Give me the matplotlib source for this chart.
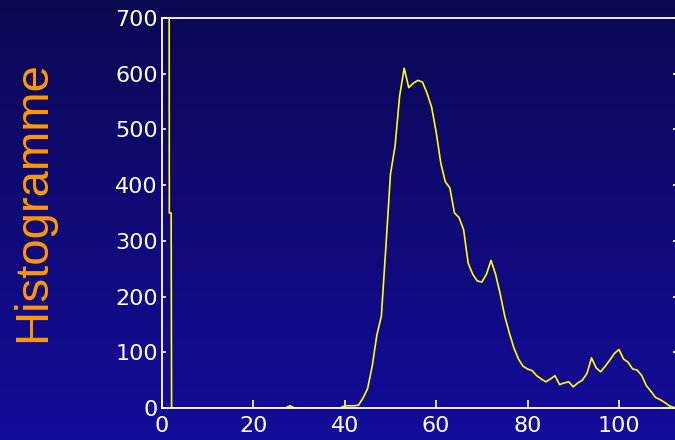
import numpy as np
import matplotlib
matplotlib.use("Agg")
import matplotlib.pyplot as plt

# ------------------------------------------------------------------
# Data (grey levels -> pixel counts)
# ------------------------------------------------------------------
spike_levels = [1.4, 1.6, 2.0, 2.1]
spike_counts = [3000, 350, 350, 0]

levels = list(range(3, 114))
counts = [
    0, 0, 0, 0, 0, 0, 0, 0, 0, 0,          # 3-12
    0, 0, 0, 0, 0, 0, 0, 0, 0, 0,          # 13-22
    0, 0, 0, 0, 0, 4, 0, 0, 0, 0,          # 23-32
    0, 0, 0, 0, 0, 0, 0, 4, 4, 4,          # 33-42
    5, 18, 35, 75, 130, 165, 290, 420, 470, 560,   # 43-52
    610, 575, 583, 588, 585, 565, 540, 495, 440, 406,  # 53-62
    395, 350, 342, 320, 260, 240, 228, 226, 240, 265,  # 63-72
    240, 205, 165, 135, 108, 88, 75, 70, 67, 58,       # 73-82
    52, 47, 52, 58, 42, 45, 47, 38, 45, 50,            # 83-92
    62, 90, 72, 65, 75, 86, 98, 105, 88, 82,           # 93-102
    70, 68, 58, 40, 30, 19, 15, 10, 4, 1,              # 103-112
    0,                                                 # 113
]

x_ticks = [0, 20, 40, 60, 80, 100]
y_ticks = [0, 100, 200, 300, 400, 500, 600, 700]

# ------------------------------------------------------------------
# Figure with blue gradient background
# ------------------------------------------------------------------
fig = plt.figure(figsize=(6.75, 4.4), dpi=100)

bg = fig.add_axes([0, 0, 1, 1], zorder=-10)
top_col = np.array([11, 8, 82]) / 255
bot_col = np.array([20, 12, 155]) / 255
t = np.linspace(0, 1, 256)[:, None]
grad = top_col * (1 - t) + bot_col * t
bg.imshow(grad[:, None, :], aspect="auto", extent=[0, 1, 0, 1])
bg.axis("off")

ax = fig.add_axes([162 / 675, 32 / 440, (677 - 162) / 675, 390 / 440])
ax.set_facecolor("none")

x_all = spike_levels + levels
y_all = spike_counts + counts
ax.plot(x_all, y_all, color="#ffff00", lw=1.2, clip_on=True)

ax.set_xlim(0, 112.7)
ax.set_ylim(0, 700)
ax.set_xticks(x_ticks)
ax.set_yticks(y_ticks)

for side, sp in ax.spines.items():
    sp.set_color("white")
    sp.set_linewidth(1.3)

ax.tick_params(axis="x", direction="in", length=5.5, width=1.2,
               colors="white", labelsize=16, pad=6, top=False)
ax.tick_params(axis="y", direction="in", length=3, width=1.2,
               colors="white", labelsize=16, pad=3, right=True)
for lab in ax.get_xticklabels() + ax.get_yticklabels():
    lab.set_family("DejaVu Sans")

fig.text(33 / 675, 1 - 202 / 440, "Histogramme", rotation=90,
         ha="center", va="center", color="#ff9900", fontsize=34,
         family="Liberation Sans")

fig.savefig("out.png", dpi=100)
